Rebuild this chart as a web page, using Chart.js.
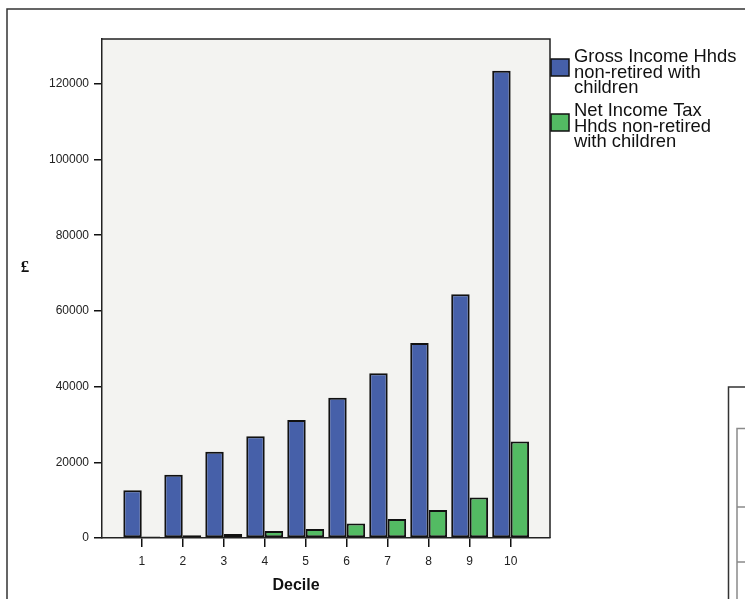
<!DOCTYPE html>
<html>
<head>
<meta charset="utf-8">
<script src="https://cdn.jsdelivr.net/npm/chart.js@4/dist/chart.umd.min.js"></script>
<style>
  html, body { margin: 0; padding: 0; background: #ffffff; }
  #wrap { position: relative; width: 745px; height: 599px; }
  canvas { display: block; }
</style>
</head>
<body>
<div id="wrap"><canvas id="c" width="745" height="599"></canvas></div>
<script>
// ---- data ----
const deciles = ['1', '2', '3', '4', '5', '6', '7', '8', '9', '10'];
const grossIncome = [12600, 16700, 22800, 26900, 31150, 37050, 43550, 51500, 64400, 123450];
const netIncomeTax = [370, 710, 1060, 1850, 2380, 3800, 5030, 7400, 10700, 25500];
const seriesLabels = ['Gross Income Hhds\nnon-retired with\nchildren', 'Net Income Tax\nHhds non-retired\nwith children'];
const yTickValues = [0, 20000, 40000, 60000, 80000, 100000, 120000];
const xTitle = 'Decile';
const yTitle = '£';

const colors = ['#4660a9', '#53bb63'];

const plotBg = {
  id: 'plotBg',
  beforeDraw(chart) {
    const { ctx, chartArea: a } = chart;
    ctx.save();
    ctx.strokeStyle = '#333';
    ctx.lineWidth = 1.5;
    ctx.beginPath();
    ctx.moveTo(7, 599); ctx.lineTo(7, 9); ctx.lineTo(745, 9);
    ctx.stroke();
    ctx.beginPath();
    ctx.moveTo(728.5, 599); ctx.lineTo(728.5, 387); ctx.lineTo(745, 387);
    ctx.stroke();
    ctx.strokeStyle = '#8a8a8a';
    ctx.lineWidth = 1.5;
    ctx.beginPath();
    ctx.moveTo(737, 599); ctx.lineTo(737, 428.5); ctx.lineTo(745, 428.5);
    ctx.moveTo(737, 507); ctx.lineTo(745, 507);
    ctx.moveTo(737, 562); ctx.lineTo(745, 562);
    ctx.stroke();
    ctx.fillStyle = '#f3f3f1';
    ctx.fillRect(a.left, a.top, a.right - a.left, a.bottom - a.top);
    ctx.restore();
  },
  afterDraw(chart) {
    const { ctx, chartArea: a } = chart;
    ctx.save();
    ctx.strokeStyle = '#222';
    ctx.lineWidth = 1.5;
    ctx.beginPath();
    ctx.moveTo(a.left, a.top); ctx.lineTo(a.right, a.top); ctx.lineTo(a.right, a.bottom);
    ctx.stroke();
    ctx.fillStyle = '#111';
    ctx.textAlign = 'center';
    ctx.textBaseline = 'middle';
    ctx.font = 'bold 16px "Liberation Sans", Arial, sans-serif';
    ctx.fillText(xTitle, 296, 586);
    ctx.font = 'bold 17px "Liberation Serif", "DejaVu Serif", serif';
    ctx.fillText(yTitle, 25, 268);
    const boxTops = [59, 114];
    const baselines = [62, 116];
    chart.data.datasets.forEach((ds, i) => {
      ctx.fillStyle = ds.backgroundColor;
      ctx.fillRect(551, boxTops[i], 18, 17);
      ctx.strokeStyle = '#111';
      ctx.lineWidth = 1.5;
      ctx.strokeRect(551, boxTops[i], 18, 17);
      ctx.fillStyle = '#111';
      ctx.textAlign = 'left';
      ctx.textBaseline = 'alphabetic';
      ctx.font = '18.4px "Liberation Sans", Arial, sans-serif';
      ds.label.split('\n').forEach((line, j) => {
        ctx.fillText(line, 574, baselines[i] + j * 15.5);
      });
    });
    ctx.restore();
  }
};

const mk = (vals) => vals.map((v, i) => ({ x: i + 1, y: v }));

new Chart(document.getElementById('c'), {
  type: 'bar',
  data: {
    datasets: [
      { label: seriesLabels[0], data: mk(grossIncome), backgroundColor: colors[0], borderColor: '#111', borderWidth: 2, borderSkipped: false },
      { label: seriesLabels[1], data: mk(netIncomeTax), backgroundColor: colors[1], borderColor: '#111', borderWidth: 2, borderSkipped: false }
    ]
  },
  options: {
    responsive: false,
    animation: false,
    devicePixelRatio: 1,
    layout: { padding: { top: 39, right: 195, left: 0, bottom: 0 } },
    plugins: { legend: { display: false }, tooltip: { enabled: false } },
    datasets: { bar: { categoryPercentage: 0.9, barPercentage: 1.0 } },
    scales: {
      x: {
        type: 'linear',
        offset: false,
        min: 0.03,
        max: 10.96,
        afterBuildTicks(axis) {
          axis.ticks = deciles.map((d, i) => ({ value: i + 1 }));
        },
        afterFit(axis) { axis.height = 61; },
        ticks: {
          autoSkip: false,
          maxRotation: 0,
          padding: 7,
          color: '#222',
          font: { size: 12, family: '"Liberation Sans", Arial, sans-serif' },
          callback: (v) => deciles[v - 1]
        },
        grid: { offset: false, drawOnChartArea: false, drawTicks: true, tickLength: 9, color: '#111', lineWidth: 1.5 },
        border: { display: true, color: '#222', width: 1.5 }
      },
      y: {
        min: 0,
        max: 131850,
        afterBuildTicks(axis) {
          axis.ticks = yTickValues.map(v => ({ value: v }));
        },
        afterFit(axis) { axis.width = 102; },
        ticks: {
          padding: 5,
          color: '#222',
          font: { size: 12, family: '"Liberation Sans", Arial, sans-serif' },
          callback: (v) => String(v)
        },
        grid: { drawOnChartArea: false, drawTicks: true, tickLength: 8, color: '#111', lineWidth: 1.5 },
        border: { display: true, color: '#222', width: 1.5 }
      }
    }
  },
  plugins: [plotBg]
});
</script>
</body>
</html>
